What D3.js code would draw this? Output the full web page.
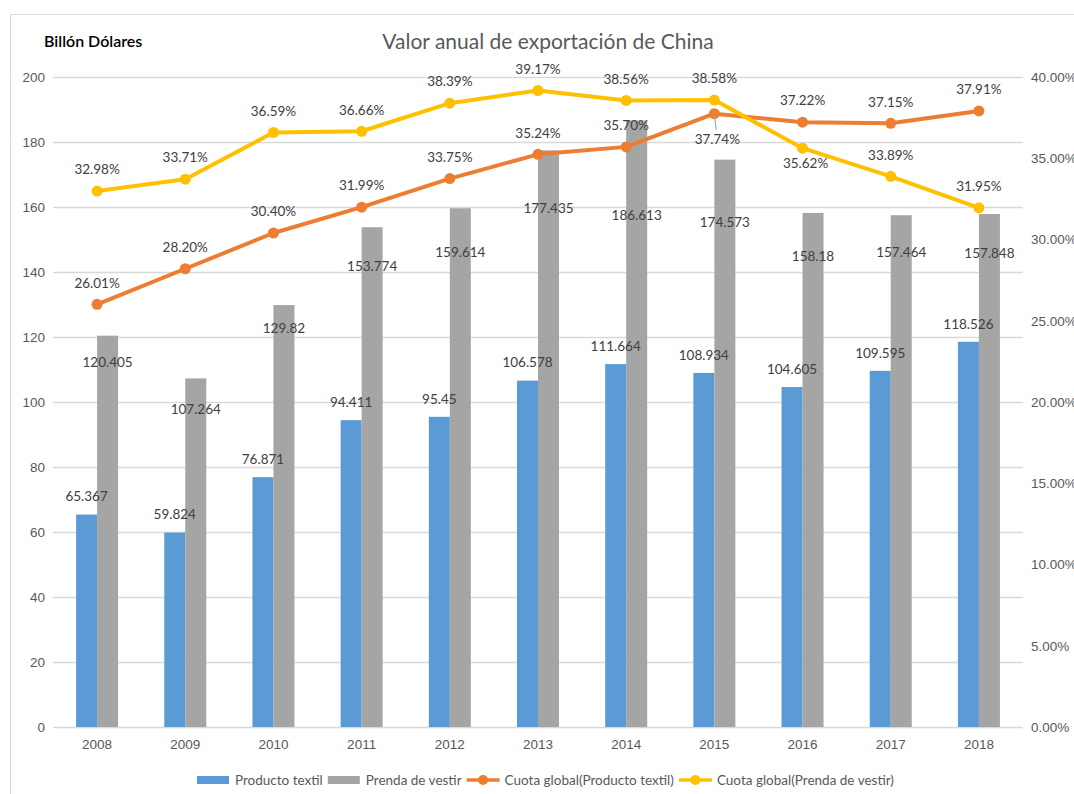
<!DOCTYPE html>
<html>
<head>
<meta charset="utf-8">
<script src="https://cdn.jsdelivr.net/npm/d3@7"></script>
<style>
  body { margin: 0; background: #fff; }
  svg { font-family: Lato, "Liberation Sans", sans-serif; }
</style>
</head>
<body>
<script>
"use strict"

const years = ['2008', '2009', '2010', '2011', '2012', '2013', '2014', '2015', '2016', '2017', '2018']
const textil = [65.367, 59.824, 76.871, 94.411, 95.45, 106.578, 111.664, 108.934, 104.605, 109.595, 118.526]
const vestir = [120.405, 107.264, 129.82, 153.774, 159.614, 177.435, 186.613, 174.573, 158.18, 157.464, 157.848]
const cuotaTextil = [26.01, 28.20, 30.40, 31.99, 33.75, 35.24, 35.70, 37.74, 37.22, 37.15, 37.91]
const cuotaVestir = [32.98, 33.71, 36.59, 36.66, 38.39, 39.17, 38.56, 38.58, 35.62, 33.89, 31.95]
const leftTicks = [0, 20, 40, 60, 80, 100, 120, 140, 160, 180, 200]
const rightTicks = [0, 5, 10, 15, 20, 25, 30, 35, 40]

// hand-placed label nudges, as in the original
const vestirLabelDy = [27, 31, 23, 39, 44, 58, 95, 63, 43, 37, 39]
const textilPctBelow = [false, false, false, false, false, false, false, true, false, false, false]
const vestirPctBelow = [false, false, false, false, false, false, false, false, true, false, false]

const w = 1074
const h = 794
const padL = 53, padR = 1023, padT = 77, padB = 727
const textGray = '#595959'
const labelGray = '#404040'

const svg = d3.select('body')
   .append('svg')
      .attr('width', w)
      .attr('height', h)

// outer frame (cropped on the right and bottom)
svg.append('path')
   .attr('d', `M10.5,${h} V14.5 H${w}`)
   .attr('fill', 'none')
   .attr('stroke', '#d9d9d9')

const x = d3.scaleBand(years, [padL, padR])
const y = d3.scaleLinear([0, 200], [padB, padT])
const y2 = d3.scaleLinear([0, 40], [padB, padT])
const barW = 21

// gridlines
svg.append('g')
   .selectAll('line')
   .data(leftTicks)
   .join('line')
      .attr('x1', padL)
      .attr('x2', padR)
      .attr('y1', d => Math.round(y(d)) + 0.5)
      .attr('y2', d => Math.round(y(d)) + 0.5)
      .attr('stroke', '#d9d9d9')
      .attr('stroke-width', 1.3)

const yAxis = d3.axisLeft(y).tickValues(leftTicks).tickSize(0).tickPadding(8)
svg.append('g')
   .attr('transform', `translate(${padL}, 0)`)
   .call(yAxis)
   .call(g => g.select('.domain').remove())
   .selectAll('text')
      .attr('fill', textGray)
      .style('font-size', '13.5px')

const y2Axis = d3.axisRight(y2).tickValues(rightTicks).tickSize(0).tickPadding(8)
   .tickFormat(d => d.toFixed(2) + '%')
svg.append('g')
   .attr('transform', `translate(${padR}, 0)`)
   .call(y2Axis)
   .call(g => g.select('.domain').remove())
   .selectAll('text')
      .attr('fill', textGray)
      .style('font-size', '13.5px')

const xAxis = d3.axisBottom(x).tickSize(0).tickPadding(12)
svg.append('g')
   .attr('transform', `translate(0, ${padB})`)
   .call(xAxis)
   .call(g => g.select('.domain').remove())
   .selectAll('text')
      .attr('fill', textGray)
      .style('font-size', '13.5px')

const cx = d => x(d) + x.bandwidth() / 2

// bars
svg.append('g')
   .selectAll('rect')
   .data(years)
   .join('rect')
      .attr('x', d => cx(d) - barW)
      .attr('y', (d, i) => y(textil[i]))
      .attr('width', barW)
      .attr('height', (d, i) => padB - y(textil[i]))
      .attr('fill', '#5b9bd5')

svg.append('g')
   .selectAll('rect')
   .data(years)
   .join('rect')
      .attr('x', d => cx(d))
      .attr('y', (d, i) => y(vestir[i]))
      .attr('width', barW)
      .attr('height', (d, i) => padB - y(vestir[i]))
      .attr('fill', '#a5a5a5')

// bar labels
svg.append('g')
   .selectAll('text')
   .data(years)
   .join('text')
      .attr('x', d => cx(d) - barW / 2)
      .attr('y', (d, i) => y(textil[i]) - 18)
      .attr('dy', '0.35em')
      .attr('text-anchor', 'middle')
      .attr('fill', labelGray)
      .style('font-size', '13.5px')
      .text((d, i) => textil[i])

svg.append('g')
   .selectAll('text')
   .data(years)
   .join('text')
      .attr('x', d => cx(d) + barW / 2)
      .attr('y', (d, i) => y(vestir[i]) + vestirLabelDy[i])
      .attr('dy', '0.35em')
      .attr('text-anchor', 'middle')
      .attr('fill', labelGray)
      .style('font-size', '13.5px')
      .text((d, i) => vestir[i])

// lines
const drawLine = (values, color, below, belowDy) => {
   const line = d3.line()
      .x((d, i) => cx(years[i]))
      .y(d => y2(d))
   svg.append('path')
      .datum(values)
      .attr('d', line)
      .attr('fill', 'none')
      .attr('stroke', color)
      .attr('stroke-width', 4)
      .attr('stroke-linejoin', 'round')
   svg.append('g')
      .selectAll('circle')
      .data(values)
      .join('circle')
         .attr('cx', (d, i) => cx(years[i]))
         .attr('cy', d => y2(d))
         .attr('r', 5.5)
         .attr('fill', color)
   svg.append('g')
      .selectAll('text')
      .data(values)
      .join('text')
         .attr('x', (d, i) => cx(years[i]) + (below[i] ? 3 : 0))
         .attr('y', (d, i) => y2(d) + (below[i] ? belowDy : -21.5))
         .attr('dy', '0.35em')
         .attr('text-anchor', 'middle')
         .attr('fill', labelGray)
         .style('font-size', '13.5px')
         .text(d => d.toFixed(2) + '%')
}

drawLine(cuotaTextil, '#ed7d31', textilPctBelow, 26)
drawLine(cuotaVestir, '#ffc000', vestirPctBelow, 15)

// leader line for the 2015 share label
const li = textilPctBelow.indexOf(true)
svg.append('line')
   .attr('x1', cx(years[li]))
   .attr('y1', y2(cuotaTextil[li]) + 2)
   .attr('x2', cx(years[li]) + 2)
   .attr('y2', y2(cuotaTextil[li]) + 16)
   .attr('stroke', '#a6a6a6')
   .attr('stroke-width', 1.2)

// titles
svg.append('text')
   .attr('x', 548)
   .attr('y', 42)
   .attr('dy', '0.35em')
   .attr('text-anchor', 'middle')
   .attr('fill', textGray)
   .style('font-size', '21px')
   .text('Valor anual de exportación de China')

svg.append('text')
   .attr('x', 44)
   .attr('y', 41)
   .attr('dy', '0.35em')
   .attr('fill', '#000')
   .style('font-size', '16px')
   .style('font-weight', '600')
   .text('Billón Dólares')

// legend
const legendItems = [
   { name: 'Producto textil', color: '#5b9bd5', type: 'bar' },
   { name: 'Prenda de vestir', color: '#a5a5a5', type: 'bar' },
   { name: 'Cuota global(Producto textil)', color: '#ed7d31', type: 'line' },
   { name: 'Cuota global(Prenda de vestir)', color: '#ffc000', type: 'line' }
]
const legend = svg.append('g').attr('transform', 'translate(0, 780)')
let lx = 197
legendItems.forEach(item => {
   const g = legend.append('g').attr('transform', `translate(${lx}, 0)`)
   if (item.type === 'bar') {
      g.append('rect')
         .attr('x', 0).attr('y', -4)
         .attr('width', 32).attr('height', 8)
         .attr('fill', item.color)
   } else {
      g.append('line')
         .attr('x1', 0).attr('x2', 33)
         .attr('stroke', item.color)
         .attr('stroke-width', 3.5)
      g.append('circle')
         .attr('cx', 16.5).attr('r', 5)
         .attr('fill', item.color)
   }
   const t = g.append('text')
      .attr('x', 38)
      .attr('dy', '0.35em')
      .attr('fill', textGray)
      .style('font-size', '13.5px')
      .text(item.name)
   lx += 38 + t.node().getComputedTextLength() + 5
})
</script>
</body>
</html>
